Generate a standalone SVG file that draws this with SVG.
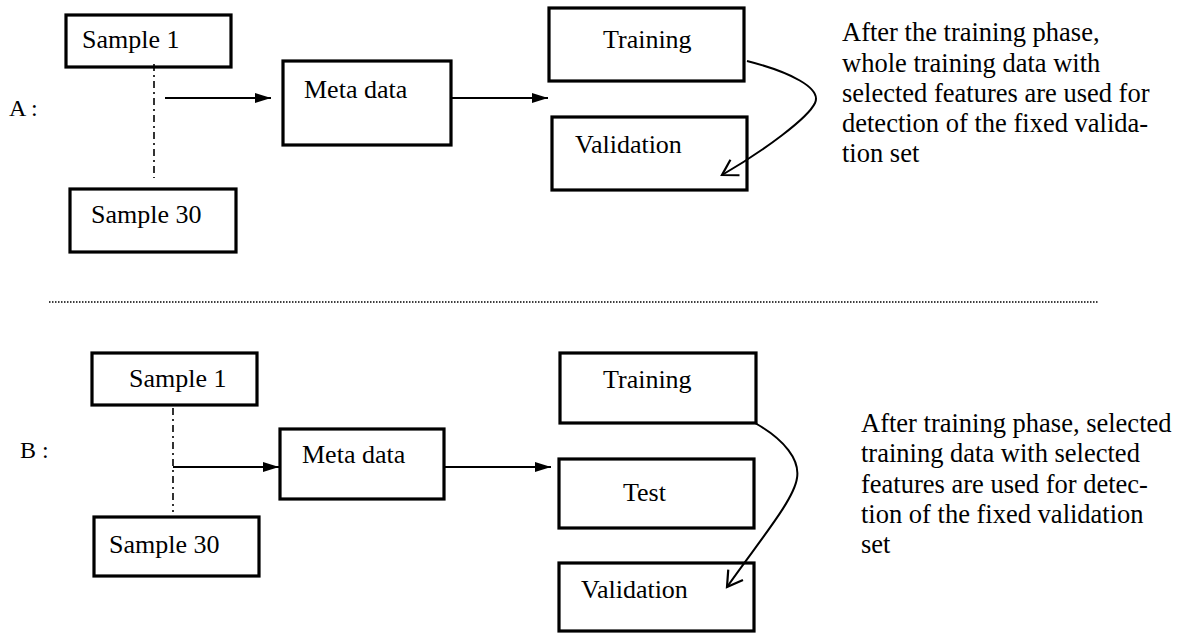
<svg xmlns="http://www.w3.org/2000/svg" width="1189" height="634" viewBox="0 0 1189 634">
<style>
  text { font-family: 'Liberation Serif', 'DejaVu Serif', serif; fill: #000; }
  .lbl { font-size: 26px; }
  .note { font-size: 26.5px; }
  .sec { font-size: 24px; }
  .box { fill: #fff; stroke: #000; stroke-width: 3.2; }
  .conn { fill: none; stroke: #000; stroke-width: 2; }
  .dd { fill: none; stroke: #000; stroke-width: 1.6; stroke-dasharray: 7 4 2 4; }
  .div { fill: none; stroke: #000; stroke-width: 1.5; stroke-dasharray: 1.5 1.5; }
</style>
<defs>
  <marker id="solid" markerUnits="userSpaceOnUse" markerWidth="18" markerHeight="12" refX="16" refY="5" orient="auto">
    <path d="M0,0 L16,5 L0,10 Z" fill="#000"/>
  </marker>
  <marker id="open" markerUnits="userSpaceOnUse" markerWidth="24" markerHeight="24" refX="18" refY="12" orient="auto">
    <path d="M3,3 L18,12 L3,21" fill="none" stroke="#000" stroke-width="2.2"/>
  </marker>
</defs>

<rect width="1189" height="634" fill="#fff"/>

<text class="sec" x="9" y="116" font-family="Liberation Serif, serif">A :</text>
<text class="sec" x="20" y="458" font-family="Liberation Serif, serif">B :</text>

<line class="div" x1="49" y1="302" x2="1099" y2="302"/>

<g id="a-sample1"><rect class="box" x="66" y="15" width="165" height="52"/><text class="lbl" x="82" y="48">Sample 1</text></g>
<g id="a-sample30"><rect class="box" x="70" y="189" width="166" height="63"/><text class="lbl" x="91" y="223">Sample 30</text></g>
<g id="a-meta"><rect class="box" x="283" y="61" width="168" height="84"/><text class="lbl" x="304" y="98">Meta data</text></g>
<g id="a-training"><rect class="box" x="549" y="8" width="195" height="73"/><text class="lbl" x="603" y="48">Training</text></g>
<g id="a-validation"><rect class="box" x="552" y="117" width="195" height="73"/><text class="lbl" x="575" y="153">Validation</text></g>
<g id="a-note">
  <text class="note" x="842" y="41">After the training phase,</text>
  <text class="note" x="842" y="72">whole training data with</text>
  <text class="note" x="842" y="102">selected features are used for</text>
  <text class="note" x="842" y="132">detection of the fixed valida-</text>
  <text class="note" x="842" y="162">tion set</text>
</g>

<g id="b-sample1"><rect class="box" x="92" y="353" width="165" height="52"/><text class="lbl" x="129" y="387">Sample 1</text></g>
<g id="b-sample30"><rect class="box" x="94" y="517" width="165" height="59"/><text class="lbl" x="109" y="553">Sample 30</text></g>
<g id="b-meta"><rect class="box" x="280" y="429" width="164" height="70"/><text class="lbl" x="302" y="463">Meta data</text></g>
<g id="b-training"><rect class="box" x="560" y="353" width="196" height="70"/><text class="lbl" x="603" y="388">Training</text></g>
<g id="b-test"><rect class="box" x="559" y="459" width="195" height="69"/><text class="lbl" x="623" y="501">Test</text></g>
<g id="b-validation"><rect class="box" x="559" y="563" width="195" height="68"/><text class="lbl" x="581" y="598">Validation</text></g>
<g id="b-note">
  <text class="note" x="861" y="432">After training phase, selected</text>
  <text class="note" x="861" y="462">training data with selected</text>
  <text class="note" x="861" y="493">features are used for detec-</text>
  <text class="note" x="861" y="523">tion of the fixed validation</text>
  <text class="note" x="861" y="553">set</text>
</g>

<g id="connectors">
  <line class="dd" x1="154" y1="64" x2="154" y2="178"/>
  <line class="conn" x1="165" y1="98" x2="271" y2="98" marker-end="url(#solid)"/>
  <line class="conn" x1="452" y1="98" x2="548" y2="98" marker-end="url(#solid)"/>
  <path class="conn" d="M747 61 C790 72 822 88 815 103 C808 118 765 150 722 175" marker-end="url(#open)"/>

  <line class="dd" x1="173" y1="408" x2="173" y2="512"/>
  <line class="conn" x1="173" y1="467" x2="279" y2="467" marker-end="url(#solid)"/>
  <line class="conn" x1="444" y1="467" x2="551" y2="467" marker-end="url(#solid)"/>
  <path class="conn" d="M755 423 C785 440 800 460 797 478 C794 500 760 540 727 587" marker-end="url(#open)"/>
</g>
</svg>
